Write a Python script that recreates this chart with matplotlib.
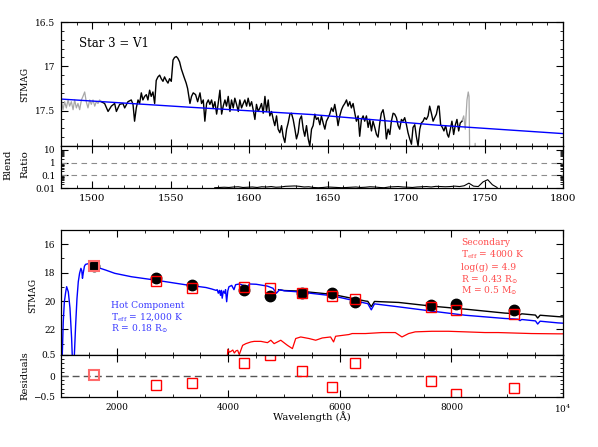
import numpy as np
import matplotlib
matplotlib.use('Agg')
import matplotlib.pyplot as plt
from matplotlib.ticker import MultipleLocator, FixedLocator, FuncFormatter, LogLocator, NullFormatter

plt.rcParams['font.family'] = ['DejaVu Serif']
plt.rcParams['mathtext.fontset'] = 'dejavuserif'

# ---------------- top panel: UV spectrum ----------------
gray_start_wave = [1479.2, 1480.2, 1481.3, 1482.3, 1483.4, 1484.5, 1485.5, 1486.6, 1487.7, 1488.7,
                   1489.8, 1490.8, 1491.9, 1493.0, 1494.0, 1495.1, 1496.1, 1497.2, 1498.3, 1499.3,
                   1500.4, 1501.5, 1502.5, 1503.6, 1504.6, 1505.7]
gray_start_mag = [17.43, 17.38, 17.49, 17.40, 17.47, 17.38, 17.45, 17.40, 17.49, 17.38,
                  17.47, 17.42, 17.49, 17.38, 17.34, 17.29, 17.40, 17.47, 17.38, 17.43,
                  17.38, 17.45, 17.40, 17.42, 17.38, 17.40]

spec_wave = [1505.7, 1507.8, 1510.0, 1512.1, 1514.2, 1515.3, 1517.4, 1519.5, 1520.6, 1522.7,
             1524.8, 1525.9, 1526.9, 1528.0, 1529.1, 1530.1, 1531.2, 1532.2, 1533.3, 1534.4,
             1535.4, 1536.5, 1537.5, 1538.6, 1539.7, 1540.7, 1541.8, 1542.9, 1543.9, 1545.0,
             1546.0, 1547.1, 1548.2, 1549.2, 1550.3, 1551.4, 1552.4, 1553.5, 1554.5, 1555.6,
             1556.7, 1558.4, 1559.8, 1560.7, 1562.2, 1563.2, 1564.3, 1565.8, 1567.1, 1568.6,
             1569.6, 1570.7, 1571.7, 1572.8, 1573.9, 1574.9, 1576.0, 1577.0, 1578.1, 1579.2,
             1580.2, 1581.3, 1582.4, 1583.4, 1584.5, 1585.5, 1586.6, 1587.7, 1588.7, 1589.8,
             1590.8, 1591.9, 1593.0, 1594.0, 1595.1, 1596.2, 1597.2, 1598.3, 1599.3, 1600.4,
             1601.5, 1602.5, 1603.6, 1604.6, 1605.7, 1606.8, 1607.8, 1608.9, 1610.0, 1611.0,
             1612.1, 1613.1, 1614.2, 1615.3, 1616.3, 1617.4, 1618.4, 1619.5, 1620.6, 1621.6,
             1622.7, 1623.8, 1624.8, 1625.9, 1626.9, 1628.0, 1629.1, 1630.1, 1631.2, 1632.2,
             1633.3, 1634.4, 1635.4, 1636.5, 1637.6, 1638.6, 1639.7, 1640.7, 1641.8, 1642.8,
             1643.9, 1645.0, 1646.0, 1647.1, 1648.2, 1649.2, 1650.3, 1651.3, 1652.4, 1653.5,
             1654.5, 1655.6, 1656.6, 1657.7, 1658.8, 1659.8, 1660.9, 1662.0, 1663.0, 1664.1,
             1665.1, 1666.2, 1667.3, 1668.3, 1669.4, 1670.4, 1671.5, 1672.6, 1673.6, 1674.7,
             1675.8, 1676.8, 1677.9, 1678.9, 1680.0, 1681.1, 1682.1, 1683.2, 1684.2, 1685.3,
             1686.4, 1687.4, 1688.5, 1689.6, 1690.6, 1691.7, 1692.7, 1693.8, 1694.9, 1695.9,
             1697.0, 1698.0, 1699.1, 1700.2, 1701.2, 1702.3, 1703.4, 1704.4, 1705.5, 1706.5,
             1707.6, 1708.7, 1709.7, 1710.8, 1711.8, 1712.9, 1714.0, 1715.0, 1716.1, 1717.2,
             1718.2, 1719.3, 1720.3, 1721.0, 1722.0, 1723.1, 1724.1, 1725.2, 1726.3, 1727.1,
             1728.2, 1729.2, 1730.3, 1731.4, 1732.4, 1733.5, 1734.5, 1735.6]
spec_mag = [17.40, 17.42, 17.51, 17.45, 17.42, 17.51, 17.43, 17.42, 17.47, 17.40,
            17.38, 17.43, 17.62, 17.47, 17.38, 17.42, 17.30, 17.38, 17.34, 17.32,
            17.38, 17.27, 17.34, 17.29, 17.42, 17.16, 17.12, 17.10, 17.14, 17.17,
            17.12, 17.16, 17.19, 17.14, 17.17, 16.93, 16.90, 16.89, 16.91, 16.95,
            17.03, 17.12, 17.19, 17.25, 17.42, 17.34, 17.30, 17.32, 17.40, 17.30,
            17.42, 17.38, 17.62, 17.42, 17.38, 17.43, 17.38, 17.47, 17.40, 17.54,
            17.42, 17.27, 17.54, 17.45, 17.38, 17.45, 17.34, 17.51, 17.38, 17.47,
            17.36, 17.43, 17.51, 17.38, 17.47, 17.42, 17.38, 17.45, 17.36, 17.45,
            17.40, 17.49, 17.60, 17.43, 17.51, 17.47, 17.42, 17.53, 17.34, 17.51,
            17.38, 17.56, 17.51, 17.60, 17.67, 17.56, 17.71, 17.75, 17.67, 17.79,
            17.86, 17.71, 17.64, 17.54, 17.53, 17.60, 17.71, 17.82, 17.75, 17.60,
            17.56, 17.71, 17.79, 17.67, 17.82, 17.90, 17.71, 17.67, 17.54, 17.60,
            17.58, 17.66, 17.56, 17.64, 17.71, 17.62, 17.58, 17.54, 17.47, 17.51,
            17.43, 17.54, 17.67, 17.56, 17.49, 17.45, 17.42, 17.38, 17.45, 17.40,
            17.47, 17.42, 17.53, 17.62, 17.56, 17.79, 17.60, 17.56, 17.62, 17.56,
            17.69, 17.60, 17.73, 17.62, 17.69, 17.77, 17.80, 17.64, 17.53, 17.49,
            17.60, 17.82, 17.71, 17.77, 17.62, 17.53, 17.54, 17.58, 17.67, 17.71,
            17.60, 17.62, 17.58, 17.66, 17.75, 17.82, 17.88, 17.69, 17.66, 17.79,
            17.90, 17.71, 17.64, 17.62, 17.58, 17.60, 17.56, 17.45, 17.53, 17.62,
            17.58, 17.54, 17.45, 17.45, 17.66, 17.69, 17.73, 17.67, 17.77, 17.80,
            17.71, 17.62, 17.77, 17.66, 17.60, 17.73, 17.64, 17.62]

gray_end_wave = [1735.6, 1736.7, 1737.7, 1738.8, 1739.6, 1740.1, 1740.5, 1741.1, 1743.5, 1744.0, 1744.5]
gray_end_mag = [17.62, 17.56, 17.71, 17.38, 17.29, 17.34, 17.95, 18.05, 18.05, 17.87, 18.05]

uv_model_wave = [1480, 1560, 1640, 1720, 1800]
uv_model_mag = [17.37, 17.46, 17.545, 17.665, 17.76]

# blend ratio
blend_wave = np.arange(1578, 1761, 3)
blend_ratio = [0.0105, 0.011, 0.0115, 0.011, 0.012, 0.0125, 0.011, 0.0115, 0.012, 0.011,
               0.0125, 0.012, 0.013, 0.0115, 0.012, 0.0135, 0.014, 0.0145, 0.0135, 0.012,
               0.0125, 0.011, 0.0105, 0.011, 0.012, 0.0115, 0.011, 0.0105, 0.011, 0.0115,
               0.012, 0.011, 0.0115, 0.0125, 0.012, 0.011, 0.0105, 0.012, 0.0125, 0.013,
               0.012, 0.0115, 0.011, 0.012, 0.0125, 0.013, 0.012, 0.0135, 0.013, 0.0125,
               0.013, 0.014, 0.013, 0.015, 0.024, 0.014, 0.013, 0.030, 0.045, 0.018,
               0.011]

# ---------------- bottom panel: SED ----------------
hot_wave = [1012, 1023, 1040, 1060, 1083, 1101, 1131, 1161, 1190, 1208, 1232, 1262, 1286, 1310,
            1333, 1357, 1372, 1385, 1400, 1420, 1440, 1490, 1550, 1667, 1800, 1964, 2262, 2679,
            3274, 3600, 3700, 3780, 3800, 3820, 3840, 3860, 3875, 3890, 3910, 3935, 3950, 3970,
            3990, 4010, 4060, 4101, 4130, 4200, 4340, 4380, 4500, 4700, 4800, 4861, 4920, 5000,
            5268, 5863, 6458, 6500, 6563, 6620, 7054, 7649, 8244, 8958, 9196, 9229, 9260, 9506,
            9546, 9590, 9911, 10000]
hot_mag = [24.5, 23.8, 21.5, 20.06, 19.4, 18.99, 19.35, 20.5, 22.6, 24.5, 24.5, 21.73, 19.85, 18.64,
           18.05, 17.70, 17.85, 18.4, 18.0, 17.55, 17.42, 17.37, 17.40, 17.65, 17.82, 18.05, 18.29, 18.52,
           18.88, 19.05, 19.15, 19.25, 19.2, 19.45, 19.25, 19.6, 19.25, 19.8, 19.3, 19.45, 19.2, 20.05,
           19.3, 19.0, 18.9, 19.2, 18.85, 18.8, 19.0, 18.8, 18.82, 18.95, 19.1, 19.45, 19.2, 19.28,
           19.36, 19.63, 20.15, 20.18, 20.62, 20.2, 20.41, 20.71, 21.0, 21.23, 21.28, 21.38, 21.3, 21.40,
           21.62, 21.42, 21.54, 21.56]

total_wave = [4900, 5000, 5268, 5863, 6458, 6500, 6563, 6620, 7054, 7649, 8244, 8958, 9196, 9229,
              9260, 9506, 9546, 9590, 9911, 10000]
total_mag = [19.2, 19.26, 19.30, 19.53, 20.0, 20.02, 20.40, 20.03, 20.1, 20.36, 20.57, 20.85, 20.90, 20.97,
             20.9, 20.99, 21.2, 21.0, 21.1, 21.12]

cool_wave = [3975, 3990, 4020, 4048, 4080, 4107, 4140, 4167, 4196, 4256, 4315, 4405, 4464, 4583,
             4702, 4762, 4821, 4940, 5060, 5149, 5208, 5298, 5447, 5566, 5685, 5833, 5887, 5923,
             6161, 6220, 6458, 6756, 6994, 7113, 7232, 7351, 7649, 7946, 8244, 8601, 8839, 9434,
             9911, 10000]
cool_mag = [24.5, 23.4, 23.6, 23.54, 23.45, 23.66, 23.5, 23.47, 23.77, 23.12, 23.0, 22.88, 22.84, 22.84,
            22.93, 22.76, 23.0, 22.76, 23.12, 23.35, 22.64, 22.53, 22.64, 22.76, 22.6, 22.53, 22.88, 22.48,
            22.36, 22.29, 22.29, 22.22, 22.22, 22.53, 22.29, 22.17, 22.13, 22.13, 22.17, 22.22, 22.22, 22.29,
            22.31, 22.31]

phot_wave = [1590, 2700, 3340, 4286, 4750, 5327, 5863, 6268, 7637, 8084, 9113]
phot_obs = [17.51, 18.36, 18.88, 19.23, 19.63, 19.46, 19.42, 20.08, 20.30, 20.18, 20.62]
phot_model = [17.50, 18.62, 19.07, 19.00, 19.09, 19.42, 19.65, 19.85, 20.43, 20.62, 20.94]
residuals = [0.02, -0.22, -0.16, 0.30, 0.50, 0.12, -0.25, 0.31, -0.13, -0.42, -0.29]

# ---------------- figure ----------------
fig = plt.figure(figsize=(5.98, 4.47), dpi=100)
L, W = 61 / 598, 502 / 598
def fy(p):
    return 1 - p / 447
ax1 = fig.add_axes([L, fy(146), W, (146 - 22) / 447])
ax2 = fig.add_axes([L, fy(188), W, 42 / 447])
ax3 = fig.add_axes([L, fy(355), W, (355 - 230) / 447])
ax4 = fig.add_axes([L, fy(397), W, 42 / 447])

def gfmt(v, pos):
    s = '%g' % v
    return s.replace('-', '\u2212')

for ax in (ax1, ax2, ax3, ax4):
    ax.tick_params(which='both', direction='in', top=True, right=True)
    ax.tick_params(which='major', length=5, width=0.8, labelsize=6.5, pad=4)
    ax.tick_params(which='minor', length=2.5, width=0.6)
    for sp in ax.spines.values():
        sp.set_linewidth(0.9)

# top spectrum
ax1.plot(gray_start_wave, gray_start_mag, color='#a8a8a8', lw=0.9)
ax1.plot(gray_end_wave, gray_end_mag, color='#a8a8a8', lw=0.9)
ax1.plot(spec_wave, spec_mag, color='black', lw=1.0)
ax1.plot(uv_model_wave, uv_model_mag, color='#0000ff', lw=1.0)
ax1.set_xlim(1480, 1800)
ax1.set_ylim(17.9, 16.5)
ax1.xaxis.set_major_locator(MultipleLocator(50))
ax1.xaxis.set_minor_locator(MultipleLocator(10))
ax1.yaxis.set_major_locator(MultipleLocator(0.5))
ax1.yaxis.set_minor_locator(MultipleLocator(0.1))
ax1.yaxis.set_major_formatter(FuncFormatter(gfmt))
ax1.tick_params(labelbottom=False)
ax1.text(1491.5, 16.74, 'Star 3 = V1', fontsize=8.5, va='center', ha='left')

# blend ratio
ax2.plot(blend_wave, blend_ratio, color='black', lw=0.8)
ax2.axhline(1, color='#8c8c8c', lw=0.8, dashes=(5, 4))
ax2.axhline(0.1, color='#8c8c8c', lw=0.8, dashes=(5, 4))
ax2.set_yscale('log')
ax2.set_xlim(1480, 1800)
ax2.set_ylim(0.01, 20)
ax2.yaxis.set_major_locator(FixedLocator([0.01, 0.1, 1, 10]))
ax2.yaxis.set_major_formatter(FuncFormatter(gfmt))
ax2.yaxis.set_minor_locator(LogLocator(base=10, subs=np.arange(2, 10)))
ax2.yaxis.set_minor_formatter(NullFormatter())
ax2.xaxis.set_major_locator(MultipleLocator(50))
ax2.xaxis.set_minor_locator(MultipleLocator(10))
ax2.tick_params(axis='x', labelsize=7.5)

# SED
ax3.plot(cool_wave, cool_mag, color='#ff0000', lw=0.9)
ax3.plot(total_wave, total_mag, color='black', lw=1.0)
ax3.plot(hot_wave, hot_mag, color='#0000ff', lw=1.0)
ax3.plot(phot_wave, phot_obs, 'o', color='black', ms=7.5, ls='none')
ax3.plot(phot_wave[1:], phot_model[1:], 's', mfc='none', mec='#ff0000', mew=1.0, ms=7.8, ls='none')
ax3.plot(phot_wave[:1], phot_model[:1], 's', mfc='none', mec='#ff6b6b', mew=1.5, ms=7.8, ls='none')
ax3.set_xlim(1000, 10000)
ax3.set_ylim(23.8, 15)
ax3.xaxis.set_major_locator(MultipleLocator(2000))
ax3.xaxis.set_minor_locator(MultipleLocator(500))
ax3.yaxis.set_major_locator(MultipleLocator(2))
ax3.yaxis.set_minor_locator(MultipleLocator(1))
ax3.tick_params(labelbottom=False)

hot_c = '#3c3cff'
ax3.text(1893, 20.29, 'Hot Component', color=hot_c, fontsize=6.6, va='center')
ax3.text(1893, 21.12, r'T$_{\rm eff}$ = 12,000 K', color=hot_c, fontsize=6.6, va='center')
ax3.text(1893, 21.92, r'R = 0.18 R$_{\odot}$', color=hot_c, fontsize=6.6, va='center')
sec_c = '#ff4c4c'
sec_lines = ['Secondary', r'T$_{\rm eff}$ = 4000 K', 'log(g) = 4.9',
             r'R = 0.43 R$_{\odot}$', r'M = 0.5 M$_{\odot}$']
sec_y = [15.86, 16.71, 17.63, 18.47, 19.30]
for s, yv in zip(sec_lines, sec_y):
    ax3.text(8173, yv, s, color=sec_c, fontsize=6.6, va='center')

# residuals
ax4.axhline(0, color='#555555', lw=1.0, dashes=(5, 3))
ax4.plot(phot_wave[1:], residuals[1:], 's', mfc='none', mec='#ff0000', mew=1.0, ms=7.8, ls='none')
ax4.plot(phot_wave[:1], residuals[:1], 's', mfc='none', mec='#ff6b6b', mew=1.5, ms=7.8, ls='none')
ax4.set_xlim(1000, 10000)
ax4.set_ylim(-0.5, 0.5)
ax4.yaxis.set_major_locator(MultipleLocator(0.5))
ax4.yaxis.set_minor_locator(MultipleLocator(0.1))
ax4.yaxis.set_major_formatter(FuncFormatter(gfmt))
ax4.xaxis.set_major_locator(FixedLocator([2000, 4000, 6000, 8000, 10000]))
ax4.xaxis.set_minor_locator(MultipleLocator(500))
ax4.set_xticklabels(['2000', '4000', '6000', '8000', r'10$^4$'])

# axis labels
fig.text(25 / 598, fy(84), 'STMAG', rotation=90, fontsize=6.5, ha='center', va='center')
fig.text(8 / 598, fy(164.5), 'Blend', rotation=90, fontsize=7.5, ha='center', va='center')
fig.text(25 / 598, fy(164.5), 'Ratio', rotation=90, fontsize=7.5, ha='center', va='center')
fig.text(33 / 598, fy(295), 'STMAG', rotation=90, fontsize=6.5, ha='center', va='center')
fig.text(25 / 598, fy(376), 'Residuals', rotation=90, fontsize=7.2, ha='center', va='center')
fig.text(312 / 598, fy(417), 'Wavelength (Å)', fontsize=7.2, ha='center', va='center')

fig.savefig('out.png', dpi=100)
